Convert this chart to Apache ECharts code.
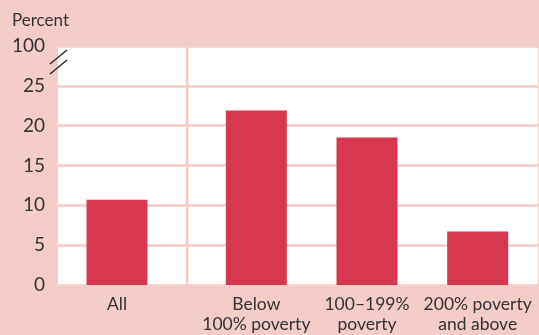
<!DOCTYPE html>
<html><head><meta charset="utf-8">
<script src="https://cdn.jsdelivr.net/npm/echarts@6/dist/echarts.min.js"></script>
<style>html,body{margin:0;padding:0;background:#f4cdc9}#c{width:539px;height:335px}</style>
</head><body><div id="c"></div>
<script>
const allCategory = ['All'];
const allValues = [10.7];
const povertyCategories = ['Below\n100% poverty', '100\u2013199%\npoverty', '200% poverty\nand above'];
const povertyValues = [21.9, 18.5, 6.7];
const yTicks = [0, 5, 10, 15, 20, 25, 30];
const yTickLabels = ['0', '5', '10', '15', '20', '25', '100'];

const FONT = 'Lato';
const TXT = '#333333';
const BAR = '#d7374f';
const PINK = '#f4cdc9';

const chart = echarts.init(document.getElementById('c'));
const hiddenY = (gi) => ({type: 'value', gridIndex: gi, min: 0, max: 30, show: false, splitLine: {show: false}});
const xLabel = {color: TXT, fontFamily: FONT, fontSize: 17.5, lineHeight: 20, margin: 9, interval: 0};

chart.setOption({
  backgroundColor: PINK,
  animation: false,
  title: {text: 'Percent', left: 7, top: 7, textStyle: {fontFamily: FONT, fontSize: 17, fontWeight: 'normal', color: TXT}},
  grid: [
    {left: 58, right: 1, top: 46, bottom: 50, show: true, backgroundColor: '#ffffff', borderWidth: 0},
    {left: 58, width: 118, top: 46, bottom: 50},
    {left: 201, right: 6, top: 46, bottom: 50}
  ],
  xAxis: [
    {type: 'category', gridIndex: 0, data: [''], show: false},
    {type: 'category', gridIndex: 1, data: allCategory, axisLine: {show: false}, axisTick: {show: false}, axisLabel: xLabel},
    {type: 'category', gridIndex: 2, data: povertyCategories, axisLine: {show: false}, axisTick: {show: false}, axisLabel: xLabel}
  ],
  yAxis: [
    {type: 'value', gridIndex: 0, min: 0, max: 30, interval: 5,
     axisLine: {show: false}, axisTick: {show: false},
     axisLabel: {color: TXT, fontFamily: FONT, fontSize: 19, margin: 13,
       formatter: v => yTickLabels[yTicks.indexOf(v)]},
     splitLine: {lineStyle: {color: PINK, width: 2.5}}},
    hiddenY(1), hiddenY(2)
  ],
  series: [
    {type: 'bar', xAxisIndex: 1, yAxisIndex: 1, data: allValues, barWidth: 61, itemStyle: {color: BAR}},
    {type: 'bar', xAxisIndex: 2, yAxisIndex: 2, data: povertyValues, barWidth: 61, itemStyle: {color: BAR}}
  ],
  graphic: [
    {type: 'rect', shape: {x: 186, y: 46, width: 2.5, height: 239}, style: {fill: PINK}, z: 1},
    {type: 'line', shape: {x1: 50, y1: 64, x2: 67, y2: 50}, style: {stroke: '#222', lineWidth: 1.3}, z: 10},
    {type: 'line', shape: {x1: 50, y1: 74, x2: 67, y2: 60}, style: {stroke: '#222', lineWidth: 1.3}, z: 10}
  ]
});
</script></body></html>
